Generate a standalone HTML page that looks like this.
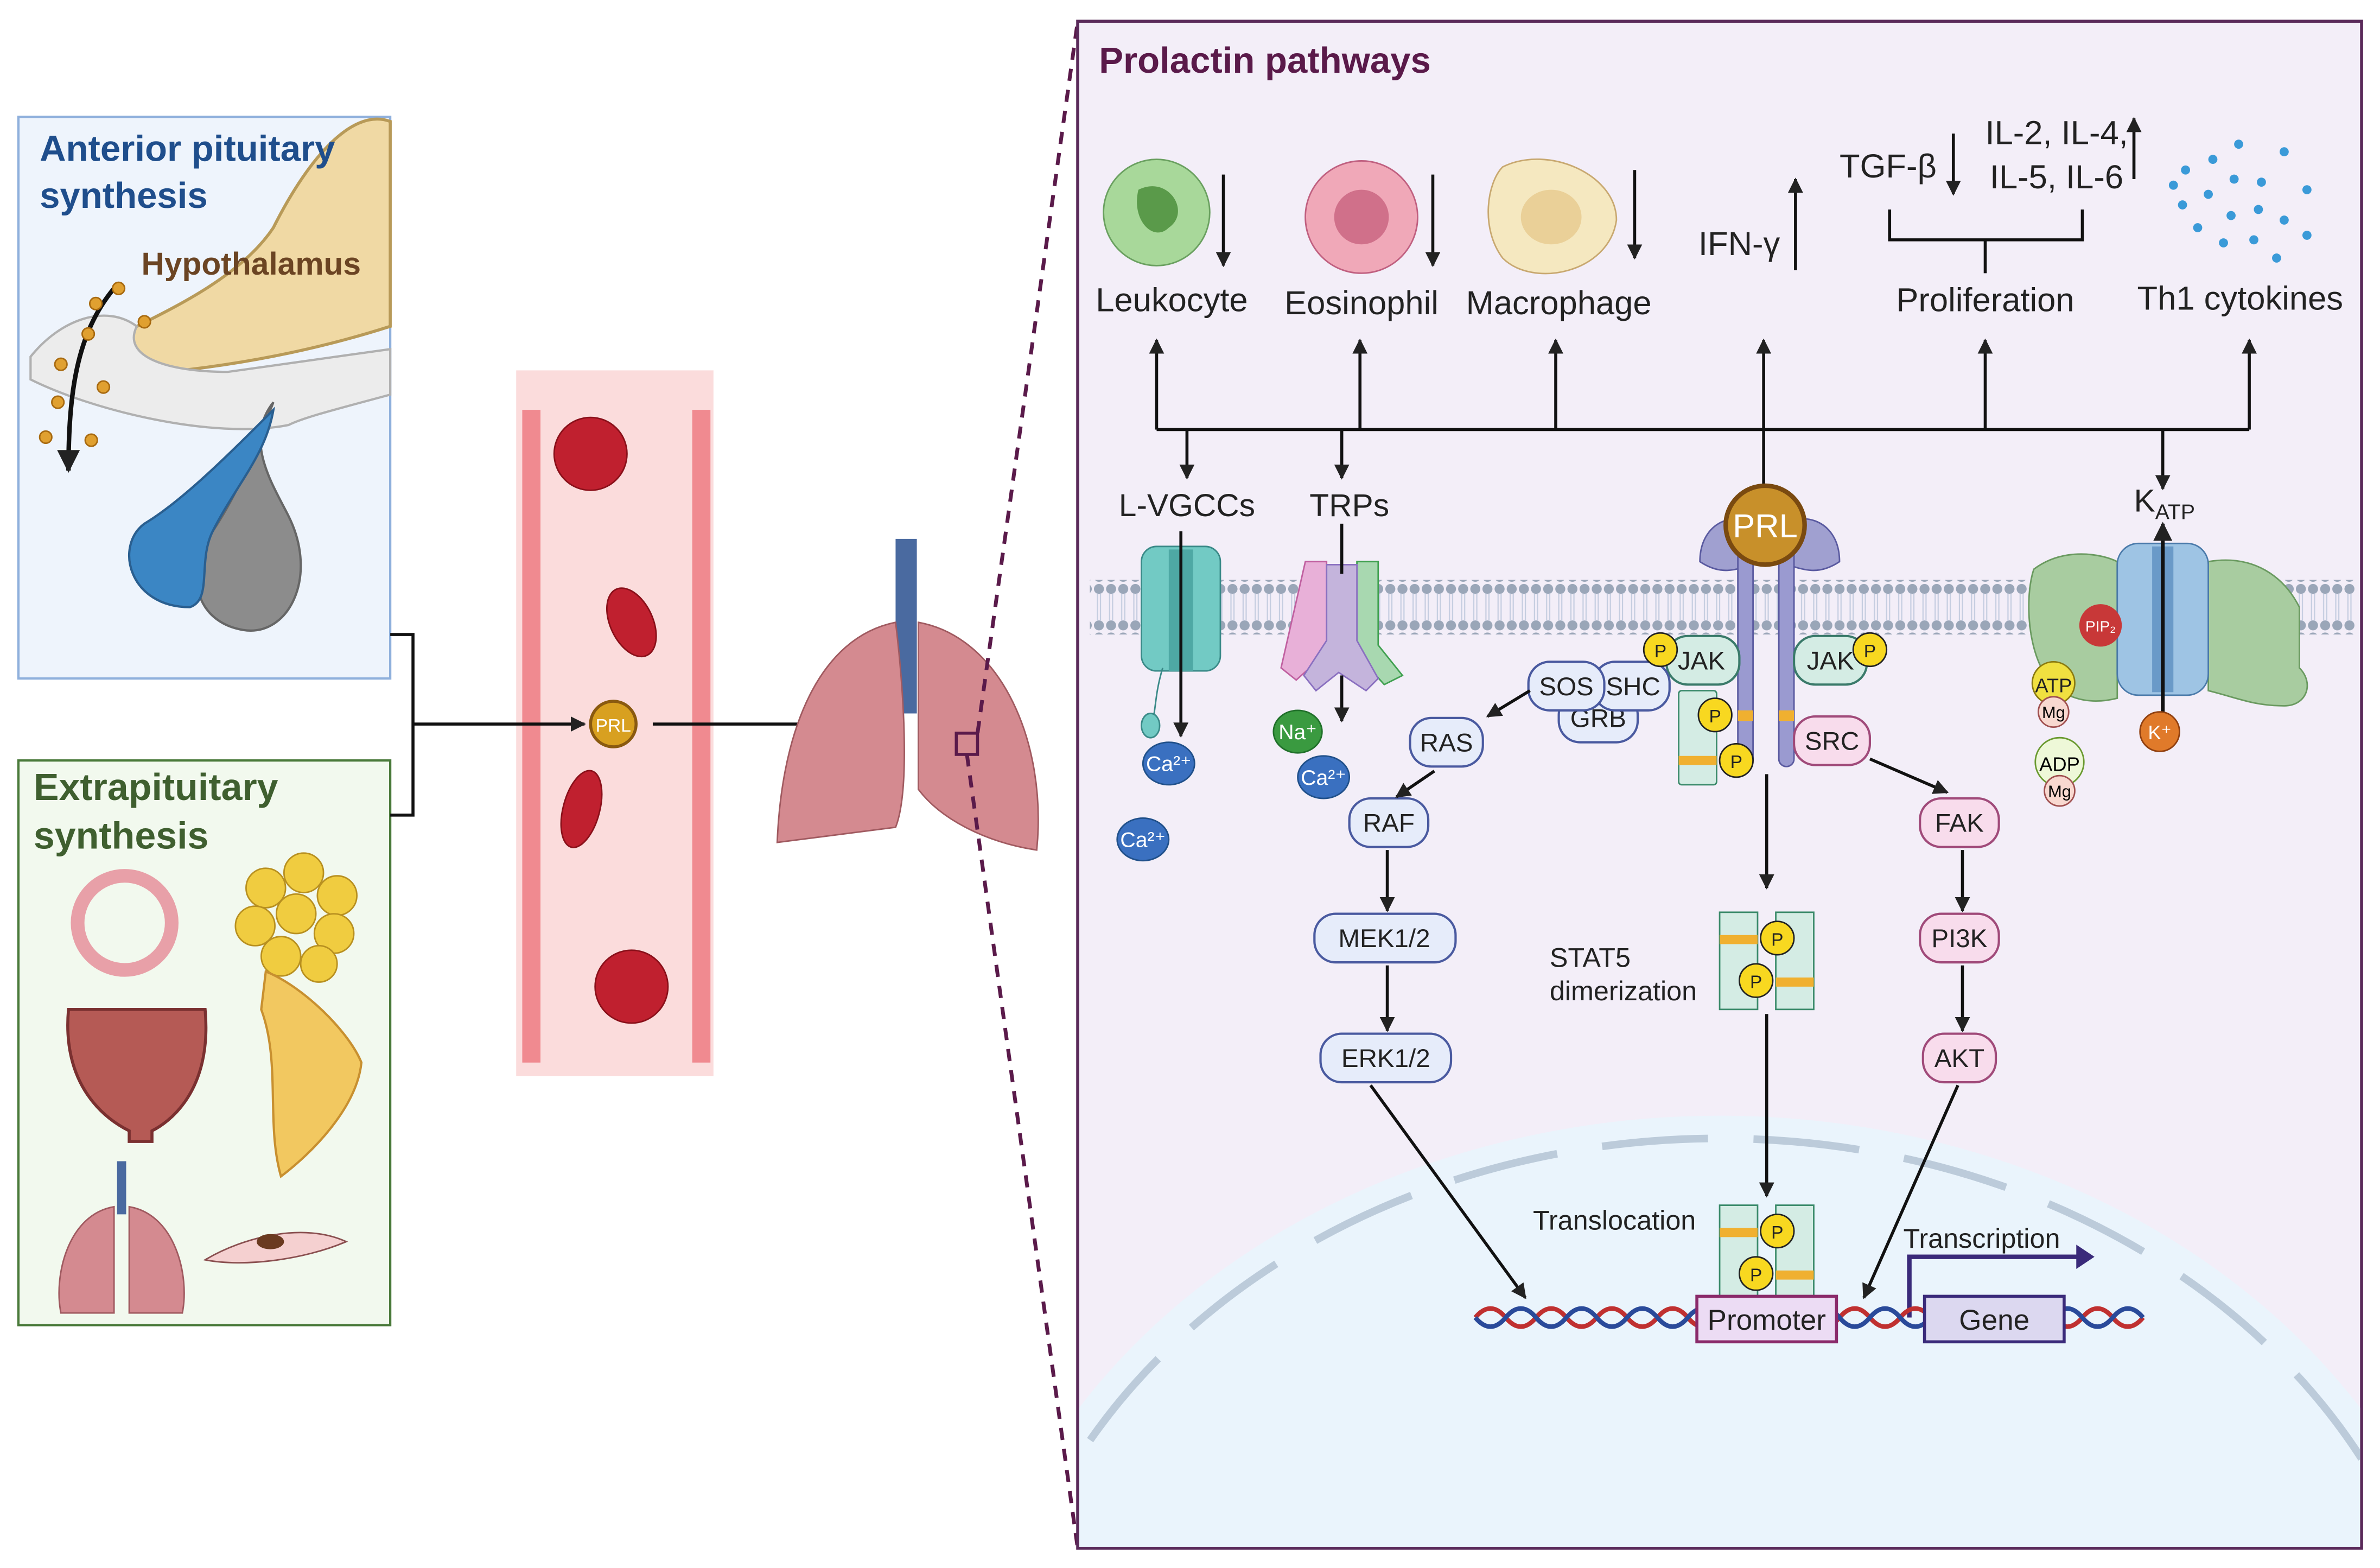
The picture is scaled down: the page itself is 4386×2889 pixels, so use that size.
<!DOCTYPE html>
<html><head><meta charset="utf-8"><style>
html,body{margin:0;padding:0;background:#fff;width:4386px;height:2889px;overflow:hidden}
svg{display:block}
text{font-family:"Liberation Sans",sans-serif}
</style></head><body>
<svg width="4386" height="2889" viewBox="0 0 1568 1033" xmlns="http://www.w3.org/2000/svg">
<defs>
<marker id="ar" viewBox="0 0 10 10" refX="9" refY="5" markerWidth="5" markerHeight="5" orient="auto"><path d="M0,0L10,5L0,10z" fill="#222"/></marker>
<pattern id="lip" width="8" height="32" patternUnits="userSpaceOnUse"><circle cx="4" cy="4" r="3.3" fill="#9aa6b8"/><circle cx="4" cy="28" r="3.3" fill="#9aa6b8"/><line x1="3" y1="7" x2="3" y2="25" stroke="#c5cde0" stroke-width="0.8"/><line x1="5" y1="7" x2="5" y2="25" stroke="#c5cde0" stroke-width="0.8"/></pattern>
</defs>
<rect width="1568" height="1033" fill="#fff"/>

<!-- Left top box -->
<rect x="12" y="77" width="245" height="370" fill="#eef4fc" stroke="#8fb0dc" stroke-width="1.5"/>
<path d="M257,80 C230,70 200,110 180,150 C160,180 120,200 90,215 C70,225 75,245 110,245 C160,240 210,230 257,215 Z" fill="#f0d9a4" stroke="#b89a58" stroke-width="2"/>
<path d="M20,235 C40,210 70,200 90,215 C80,235 110,245 150,245 L257,230 L257,260 C220,270 200,275 190,280 C140,290 60,270 20,250Z" fill="#ececec" stroke="#b0b0b0" stroke-width="1.5"/>
<path d="M180,265 C160,290 180,320 190,340 C210,380 190,420 160,415 C130,410 120,380 140,350 C160,320 170,290 180,265Z" fill="#8c8c8c" stroke="#666" stroke-width="1.5"/>
<path d="M180,270 C150,300 120,330 95,345 C75,360 85,400 125,400 C140,395 130,370 140,350 C155,320 175,300 180,270Z" fill="#3b86c4" stroke="#2a5f90" stroke-width="1.5"/>
<path d="M75,190 C50,220 45,260 45,310" fill="none" stroke="#111" stroke-width="3" marker-end="url(#ar)"/>
<g fill="#e0a030" stroke="#a86a10" stroke-width="1"><circle cx="63" cy="200" r="4"/><circle cx="78" cy="190" r="4"/><circle cx="95" cy="212" r="4"/><circle cx="58" cy="220" r="4"/><circle cx="40" cy="240" r="4"/><circle cx="68" cy="255" r="4"/><circle cx="38" cy="265" r="4"/><circle cx="60" cy="290" r="4"/><circle cx="30" cy="288" r="4"/></g>
<text x="26" y="106" font-size="24" font-weight="bold" fill="#1f4e8c">Anterior pituitary</text>
<text x="26" y="137" font-size="24" font-weight="bold" fill="#1f4e8c">synthesis</text>
<text x="93" y="181" font-size="21" font-weight="bold" fill="#6b4423">Hypothalamus</text>

<!-- Left bottom box -->
<rect x="12" y="501" width="245" height="372" fill="#f2f9ee" stroke="#4a7a3a" stroke-width="1.5"/>
<text x="22" y="527" font-size="25" font-weight="bold" fill="#3f5f2f">Extrapituitary</text>
<text x="22" y="559" font-size="25" font-weight="bold" fill="#3f5f2f">synthesis</text>
<circle cx="82" cy="608" r="31" fill="none" stroke="#e8a0a8" stroke-width="9"/>
<g fill="#f0cc40" stroke="#b89020"><circle cx="175" cy="585" r="13"/><circle cx="200" cy="575" r="13"/><circle cx="222" cy="590" r="13"/><circle cx="168" cy="610" r="13"/><circle cx="195" cy="602" r="13"/><circle cx="220" cy="615" r="13"/><circle cx="185" cy="630" r="13"/><circle cx="210" cy="635" r="12"/></g>
<path d="M45,665 C40,720 75,740 85,745 L85,752 L100,752 L100,745 C110,740 140,720 135,665 Z" fill="#b55a55" stroke="#7a3030" stroke-width="2"/>
<path d="M175,640 C200,650 230,680 238,700 C235,730 205,760 185,775 C175,740 185,700 172,665Z" fill="#f2c860" stroke="#c89030" stroke-width="1.5"/>
<path d="M80,765 L80,800" stroke="#4a6aa0" stroke-width="6"/>
<path d="M75,795 C45,800 35,840 40,865 L75,865Z M85,795 C115,800 125,840 120,865 L85,865Z" fill="#d48a90" stroke="#a05a60"/>
<path d="M135,830 C160,815 200,805 228,818 C200,830 160,835 135,830Z" fill="#f5d0d0" stroke="#8a5050"/>
<ellipse cx="178" cy="818" rx="9" ry="5" fill="#6a3a20"/>

<!-- blood vessel -->
<rect x="340" y="244" width="130" height="465" fill="#fbdcdc"/>
<path d="M350,270 V700" stroke="#f08a90" stroke-width="12"/>
<path d="M462,270 V700" stroke="#f08a90" stroke-width="12"/>
<g fill="#c0202f" stroke="#8a101a"><ellipse cx="389" cy="299" rx="24" ry="24"/><ellipse cx="416" cy="410" rx="14" ry="24" transform="rotate(-25 416 410)"/><ellipse cx="383" cy="533" rx="12" ry="26" transform="rotate(15 383 533)"/><ellipse cx="416" cy="650" rx="24" ry="24"/></g>

<!-- connectors -->
<polyline points="257,418 272,418 272,537 257,537" fill="none" stroke="#111" stroke-width="2"/>
<line x1="272" y1="477" x2="385" y2="477" stroke="#111" stroke-width="2" marker-end="url(#ar)"/>
<circle cx="404" cy="477" r="15" fill="#d8a020" stroke="#8a5a10" stroke-width="2"/>
<text x="404" y="482" font-size="12" fill="#fff" text-anchor="middle">PRL</text>
<line x1="430" y1="477" x2="540" y2="477" stroke="#111" stroke-width="2" marker-end="url(#ar)"/>

<!-- lungs -->
<path d="M597,355 V470" stroke="#4a6aa0" stroke-width="14"/>
<path d="M590,410 C540,420 515,480 512,555 L590,545 C600,520 595,450 590,410Z" fill="#d48a90" stroke="#a05a60"/>
<path d="M605,410 C660,420 690,490 683,560 C650,555 620,540 605,520Z" fill="#d48a90" stroke="#a05a60"/>
<rect x="630" y="483" width="14" height="14" fill="none" stroke="#5a1a4a" stroke-width="2"/>
<line x1="644" y1="483" x2="710" y2="14" stroke="#5a1a4a" stroke-width="2.5" stroke-dasharray="8,6"/>
<line x1="637" y1="497" x2="710" y2="1020" stroke="#5a1a4a" stroke-width="2.5" stroke-dasharray="8,6"/>

<!-- Right panel -->
<rect x="710" y="14" width="846" height="1006" fill="#f3eef8" stroke="#5a2a5a" stroke-width="2"/>
<clipPath id="rp"><rect x="711" y="15" width="844" height="1004"/></clipPath>
<g clip-path="url(#rp)">
<ellipse cx="1133" cy="1150" rx="500" ry="415" fill="#eaf4fc"/>
<ellipse cx="1133" cy="1150" rx="480" ry="400" fill="none" stroke="#bccbda" stroke-width="5" stroke-dasharray="70,30"/>
</g>
<text x="724" y="48" font-size="24" font-weight="bold" fill="#5a1a4a">Prolactin pathways</text>

<!-- membrane -->
<rect x="718" y="382" width="834" height="36" fill="url(#lip)"/>

<!-- cells top -->
<circle cx="762" cy="140" r="35" fill="#a8d89a" stroke="#6aa060"/><path d="M750,125 C770,115 785,140 770,150 C760,160 745,145 750,125Z" fill="#5a9a4a"/>
<circle cx="897" cy="143" r="37" fill="#f0a8b8" stroke="#c06080"/><circle cx="897" cy="143" r="18" fill="#d0708a"/>
<path d="M990,110 C1020,95 1065,115 1065,145 C1060,180 1010,190 990,170 C975,150 980,120 990,110Z" fill="#f5e8c0" stroke="#c8a870"/><ellipse cx="1022" cy="143" rx="20" ry="18" fill="#ead098"/>
<g fill="#3a9ad8"><circle cx="1440" cy="112" r="3"/><circle cx="1458" cy="105" r="3"/><circle cx="1475" cy="95" r="3"/><circle cx="1490" cy="120" r="3"/><circle cx="1505" cy="100" r="3"/><circle cx="1520" cy="125" r="3"/><circle cx="1438" cy="135" r="3"/><circle cx="1455" cy="128" r="3"/><circle cx="1472" cy="118" r="3"/><circle cx="1448" cy="150" r="3"/><circle cx="1470" cy="142" r="3"/><circle cx="1488" cy="138" r="3"/><circle cx="1505" cy="145" r="3"/><circle cx="1520" cy="155" r="3"/><circle cx="1465" cy="160" r="3"/><circle cx="1485" cy="158" r="3"/><circle cx="1500" cy="170" r="3"/><circle cx="1432" cy="122" r="3"/></g>
<g stroke="#111" stroke-width="2" fill="none">
<line x1="806" y1="115" x2="806" y2="175" marker-end="url(#ar)"/>
<line x1="944" y1="115" x2="944" y2="175" marker-end="url(#ar)"/>
<line x1="1077" y1="112" x2="1077" y2="170" marker-end="url(#ar)"/>
<line x1="1183" y1="178" x2="1183" y2="118" marker-end="url(#ar)"/>
<line x1="1287" y1="88" x2="1287" y2="128" marker-end="url(#ar)"/>
<line x1="1406" y1="118" x2="1406" y2="78" marker-end="url(#ar)"/>
<polyline points="1245,138 1245,158 1372,158 1372,138"/>
<line x1="1308" y1="158" x2="1308" y2="180"/>
</g>
<g font-size="22" fill="#222">
<text x="772" y="205" text-anchor="middle">Leukocyte</text>
<text x="897" y="207" text-anchor="middle">Eosinophil</text>
<text x="1027" y="207" text-anchor="middle">Macrophage</text>
<text x="1119" y="168">IFN-γ</text>
<text x="1212" y="117">TGF-β</text>
<text x="1308" y="95">IL-2, IL-4,</text>
<text x="1311" y="124">IL-5, IL-6</text>
<text x="1308" y="205" text-anchor="middle">Proliferation</text>
<text x="1476" y="204" text-anchor="middle">Th1 cytokines</text>
</g>
<!-- bus -->
<g stroke="#111" stroke-width="2" fill="none">
<line x1="762" y1="283" x2="1482" y2="283"/>
<line x1="762" y1="283" x2="762" y2="224" marker-end="url(#ar)"/>
<line x1="896" y1="283" x2="896" y2="224" marker-end="url(#ar)"/>
<line x1="1025" y1="283" x2="1025" y2="224" marker-end="url(#ar)"/>
<line x1="1162" y1="322" x2="1162" y2="224" marker-end="url(#ar)"/>
<line x1="1308" y1="283" x2="1308" y2="224" marker-end="url(#ar)"/>
<line x1="1482" y1="283" x2="1482" y2="224" marker-end="url(#ar)"/>
<line x1="782" y1="283" x2="782" y2="315" marker-end="url(#ar)"/>
<line x1="884" y1="283" x2="884" y2="315" marker-end="url(#ar)"/>
<line x1="1425" y1="283" x2="1425" y2="322" marker-end="url(#ar)"/>
</g>
<text x="782" y="340" font-size="21" fill="#222" text-anchor="middle">L-VGCCs</text>
<text x="889" y="340" font-size="21" fill="#222" text-anchor="middle">TRPs</text>
<text x="1406" y="337" font-size="21" fill="#222">K<tspan font-size="14" dy="5">ATP</tspan></text>

<!-- L-VGCC channel -->
<rect x="752" y="360" width="52" height="82" rx="10" fill="#72cac4" stroke="#3a8a88"/>
<rect x="770" y="362" width="16" height="80" fill="#4ea8a4"/>
<path d="M766,440 C760,460 762,470 758,478" stroke="#3a8a88" fill="none"/><ellipse cx="758" cy="478" rx="6" ry="8" fill="#72cac4" stroke="#3a8a88"/>
<line x1="778" y1="350" x2="778" y2="485" stroke="#111" stroke-width="2" marker-end="url(#ar)"/>
<!-- TRP -->
<path d="M860,370 h14 v60 l-20,18 l-10,-8 z" fill="#e8b0d8" stroke="#c060a0"/>
<path d="M894,370 h14 v55 l16,20 l-12,6 l-18,-20 z" fill="#a8d8b0" stroke="#40a050"/>
<path d="M874,372 h20 v50 l14,25 l-8,8 l-18,-12 l-15,12 l-8,-10 l15,-23z" fill="#c4b4dc" stroke="#8a70c0"/>
<line x1="884" y1="345" x2="884" y2="378" stroke="#111" stroke-width="2"/>
<line x1="884" y1="445" x2="884" y2="475" stroke="#111" stroke-width="2" marker-end="url(#ar)"/>
<!-- ions -->
<g font-size="14" fill="#fff" text-anchor="middle">
<ellipse cx="770" cy="503" rx="17" ry="14" fill="#3a70c0" stroke="#20508a"/><text x="770" y="508">Ca²⁺</text>
<ellipse cx="753" cy="553" rx="17" ry="14" fill="#3a70c0" stroke="#20508a"/><text x="753" y="558">Ca²⁺</text>
<ellipse cx="855" cy="482" rx="16" ry="14" fill="#3a9a40" stroke="#20702a"/><text x="855" y="487">Na⁺</text>
<ellipse cx="872" cy="512" rx="17" ry="14" fill="#3a70c0" stroke="#20508a"/><text x="872" y="517">Ca²⁺</text>
</g>

<!-- PRL receptor -->
<path d="M1120,370 c0,-30 30,-35 40,-20 v20 c-15,5 -25,10 -40,0z" fill="#a0a0d0" stroke="#5a5aa0"/>
<path d="M1212,370 c0,-30 -30,-35 -40,-20 v20 c15,5 25,10 40,0z" fill="#a0a0d0" stroke="#5a5aa0"/>
<rect x="1145" y="360" width="10" height="145" rx="5" fill="#9a9ad0" stroke="#5a5aa0"/>
<rect x="1172" y="360" width="10" height="145" rx="5" fill="#9a9ad0" stroke="#5a5aa0"/>
<rect x="1145" y="468" width="10" height="7" fill="#f0b030"/><rect x="1172" y="468" width="10" height="7" fill="#f0b030"/>
<circle cx="1163" cy="346" r="26" fill="#c8902a" stroke="#7a4a10" stroke-width="3"/>
<text x="1163" y="354" font-size="22" fill="#fff" text-anchor="middle">PRL</text>
<rect x="1106" y="455" width="25" height="62" rx="2" fill="#d4ece4" stroke="#3a8a6a"/><rect x="1106" y="498" width="25" height="6" fill="#f0b030"/>
<g font-size="17" fill="#222" text-anchor="middle">
<rect x="1098" y="419" width="48" height="32" rx="14" fill="#d4ece4" stroke="#3a7a6a" stroke-width="1.5"/><text x="1121" y="441">JAK</text>
<rect x="1182" y="419" width="48" height="32" rx="14" fill="#d4ece4" stroke="#3a7a6a" stroke-width="1.5"/><text x="1206" y="441">JAK</text>
<rect x="1027" y="457" width="52" height="32" rx="14" fill="#e6ecfa" stroke="#4a5aa0" stroke-width="1.5"/><text x="1053" y="479">GRB</text>
<rect x="1050" y="436" width="50" height="32" rx="14" fill="#e6ecfa" stroke="#4a5aa0" stroke-width="1.5"/><text x="1076" y="458">SHC</text>
<rect x="1007" y="436" width="50" height="32" rx="14" fill="#e6ecfa" stroke="#4a5aa0" stroke-width="1.5"/><text x="1032" y="458">SOS</text>
<rect x="929" y="473" width="48" height="32" rx="14" fill="#e6ecfa" stroke="#4a5aa0" stroke-width="1.5"/><text x="953" y="495">RAS</text>
<rect x="889" y="526" width="52" height="32" rx="14" fill="#e6ecfa" stroke="#4a5aa0" stroke-width="1.5"/><text x="915" y="548">RAF</text>
<rect x="866" y="602" width="93" height="32" rx="14" fill="#e6ecfa" stroke="#4a5aa0" stroke-width="1.5"/><text x="912" y="624">MEK1/2</text>
<rect x="870" y="681" width="86" height="32" rx="14" fill="#e6ecfa" stroke="#4a5aa0" stroke-width="1.5"/><text x="913" y="703">ERK1/2</text>
<rect x="1182" y="472" width="50" height="32" rx="14" fill="#f8dcec" stroke="#a04a7a" stroke-width="1.5"/><text x="1207" y="494">SRC</text>
<rect x="1265" y="526" width="52" height="32" rx="14" fill="#f8dcec" stroke="#a04a7a" stroke-width="1.5"/><text x="1291" y="548">FAK</text>
<rect x="1265" y="602" width="52" height="32" rx="14" fill="#f8dcec" stroke="#a04a7a" stroke-width="1.5"/><text x="1291" y="624">PI3K</text>
<rect x="1267" y="681" width="48" height="32" rx="14" fill="#f8dcec" stroke="#a04a7a" stroke-width="1.5"/><text x="1291" y="703">AKT</text>
</g>
<g font-size="12" fill="#222" text-anchor="middle">
<circle cx="1094" cy="428" r="11" fill="#f8d820" stroke="#222"/><text x="1094" y="433">P</text>
<circle cx="1232" cy="428" r="11" fill="#f8d820" stroke="#222"/><text x="1232" y="433">P</text>
<circle cx="1130" cy="471" r="11" fill="#f8d820" stroke="#222"/><text x="1130" y="476">P</text>
<circle cx="1144" cy="501" r="11" fill="#f8d820" stroke="#222"/><text x="1144" y="506">P</text>
</g>
<g stroke="#111" stroke-width="2" fill="none">
<line x1="1008" y1="455" x2="980" y2="472" marker-end="url(#ar)"/>
<line x1="945" y1="508" x2="920" y2="525" marker-end="url(#ar)"/>
<line x1="914" y1="560" x2="914" y2="600" marker-end="url(#ar)"/>
<line x1="914" y1="636" x2="914" y2="679" marker-end="url(#ar)"/>
<line x1="903" y1="715" x2="1005" y2="855" marker-end="url(#ar)"/>
<line x1="1232" y1="500" x2="1283" y2="522" marker-end="url(#ar)"/>
<line x1="1293" y1="560" x2="1293" y2="600" marker-end="url(#ar)"/>
<line x1="1293" y1="636" x2="1293" y2="679" marker-end="url(#ar)"/>
<line x1="1290" y1="715" x2="1228" y2="855" marker-end="url(#ar)"/>
<line x1="1164" y1="510" x2="1164" y2="585" marker-end="url(#ar)"/>
<line x1="1164" y1="668" x2="1164" y2="788" marker-end="url(#ar)"/>
</g>
<!-- STAT5 dimers -->
<g>
<rect x="1133" y="601" width="25" height="64" fill="#d4ece4" stroke="#3a8a6a"/><rect x="1170" y="601" width="25" height="64" fill="#d4ece4" stroke="#3a8a6a"/>
<rect x="1133" y="616" width="25" height="6" fill="#f0b030"/><rect x="1170" y="644" width="25" height="6" fill="#f0b030"/>
<rect x="1133" y="794" width="25" height="64" fill="#d4ece4" stroke="#3a8a6a"/><rect x="1170" y="794" width="25" height="64" fill="#d4ece4" stroke="#3a8a6a"/>
<rect x="1133" y="809" width="25" height="6" fill="#f0b030"/><rect x="1170" y="837" width="25" height="6" fill="#f0b030"/>
</g>
<g font-size="12" fill="#222" text-anchor="middle">
<circle cx="1171" cy="618" r="11" fill="#f8d820" stroke="#222"/><text x="1171" y="623">P</text>
<circle cx="1157" cy="646" r="11" fill="#f8d820" stroke="#222"/><text x="1157" y="651">P</text>
<circle cx="1171" cy="811" r="11" fill="#f8d820" stroke="#222"/><text x="1171" y="816">P</text>
<circle cx="1157" cy="839" r="11" fill="#f8d820" stroke="#222"/><text x="1157" y="844">P</text>
</g>
<text x="1021" y="637" font-size="18" fill="#222">STAT5</text>
<text x="1021" y="659" font-size="18" fill="#222">dimerization</text>
<text x="1010" y="810" font-size="18" fill="#222">Translocation</text>
<text x="1254" y="822" font-size="18" fill="#222">Transcription</text>
<path d="M1258,868 V828 H1370" stroke="#3a2a7a" stroke-width="3" fill="none"/><path d="M1368,820 L1380,828 L1368,836z" fill="#3a2a7a"/>
<!-- DNA -->
<path d="M972,868 q10,-12 20,0 t20,0 t20,0 t20,0 t20,0 t20,0 t20,0 t20,0 t20,0 t20,0 t20,0 t20,0 t20,0 t20,0 t20,0 t20,0 t20,0 t20,0 t20,0 t20,0 t20,0 t20,0" stroke="#c03030" stroke-width="3" fill="none"/>
<path d="M972,868 q10,12 20,0 t20,0 t20,0 t20,0 t20,0 t20,0 t20,0 t20,0 t20,0 t20,0 t20,0 t20,0 t20,0 t20,0 t20,0 t20,0 t20,0 t20,0 t20,0 t20,0 t20,0 t20,0" stroke="#2a4a9a" stroke-width="3" fill="none"/>
<rect x="1118" y="854" width="92" height="30" fill="#ecdcf4" stroke="#8a2a6a" stroke-width="2"/>
<text x="1164" y="876" font-size="19" fill="#222" text-anchor="middle">Promoter</text>
<rect x="1268" y="854" width="92" height="30" fill="#dcd8f0" stroke="#3a2a7a" stroke-width="2"/>
<text x="1314" y="876" font-size="19" fill="#222" text-anchor="middle">Gene</text>

<!-- KATP -->
<path d="M1340,375 c20,-15 45,-10 55,-5 v90 c-20,5 -40,0 -50,-20 c-10,-20 -10,-50 -5,-65z" fill="#a8cca0" stroke="#6a9a60"/>
<path d="M1455,370 c30,-5 50,10 60,30 v40 c10,10 5,25 -10,25 c-20,0 -30,-5 -50,-10z" fill="#a8cca0" stroke="#6a9a60"/>
<rect x="1395" y="358" width="60" height="100" rx="14" fill="#9ec4e4" stroke="#4a7aaa"/>
<rect x="1418" y="360" width="14" height="96" fill="#6a9ac8"/>
<line x1="1425" y1="470" x2="1425" y2="345" stroke="#111" stroke-width="2.5" marker-end="url(#ar)"/>
<circle cx="1384" cy="412" r="14" fill="#c83838"/><text x="1384" y="416" font-size="10" fill="#fff" text-anchor="middle">PIP₂</text>
<circle cx="1353" cy="450" r="14" fill="#f0e040" stroke="#8a7a10"/><text x="1353" y="456" font-size="13" fill="#222" text-anchor="middle">ATP</text>
<circle cx="1353" cy="469" r="10" fill="#f8d8d0" stroke="#a05050"/><text x="1353" y="473" font-size="11" text-anchor="middle">Mg</text>
<circle cx="1357" cy="502" r="16" fill="#eef8d8" stroke="#6a9a30"/><text x="1357" y="508" font-size="13" text-anchor="middle">ADP</text>
<circle cx="1357" cy="521" r="10" fill="#f8d8d0" stroke="#a05050"/><text x="1357" y="525" font-size="11" text-anchor="middle">Mg</text>
<circle cx="1423" cy="482" r="13" fill="#e07a2a" stroke="#904010"/><text x="1423" y="487" font-size="13" fill="#fff" text-anchor="middle">K⁺</text>
</svg>
</body></html>
